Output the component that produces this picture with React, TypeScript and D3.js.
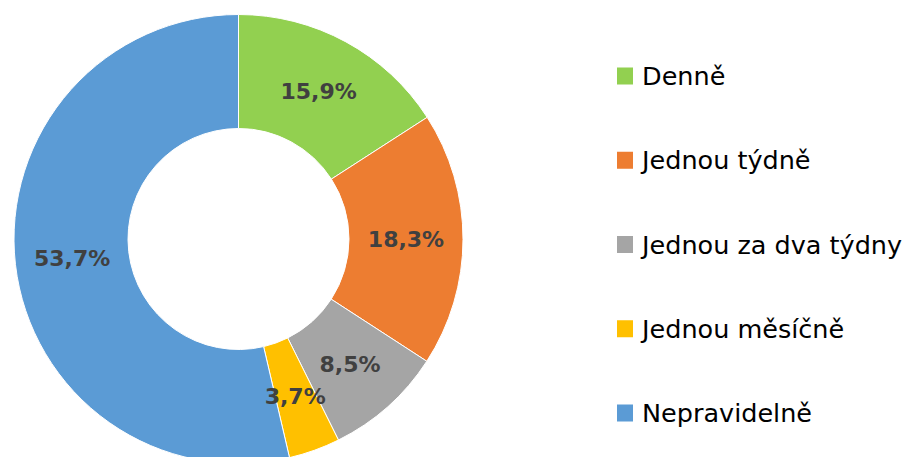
import React, { useEffect, useRef } from 'react';
import * as d3 from 'd3';

const categories = ['Denně', 'Jednou týdně', 'Jednou za dva týdny', 'Jednou měsíčně', 'Nepravidelně'];
const values = [15.9, 18.3, 8.5, 3.7, 53.7];
const labels = ['15,9%', '18,3%', '8,5%', '3,7%', '53,7%'];
const colors = ['#92D050', '#ED7D31', '#A5A5A5', '#FFC000', '#5B9BD5'];

const width = 905;
const height = 457;

const App: React.FC = () => {
  const ref = useRef<SVGSVGElement>(null);

  useEffect(() => {
    if (!ref.current) return;
    const svg = d3.select(ref.current);
    svg.selectAll('*').remove();

    const cx = 238.5;
    const cy = 239;
    const outer = 224.5;
    const inner = 110.5;

    const pie = d3
      .pie<number>()
      .sort(null)
      .value((d) => d);
    const arcs = pie(values);
    const arc = d3.arc<d3.PieArcDatum<number>>().innerRadius(inner).outerRadius(outer);

    const g = svg.append('g').attr('transform', `translate(${cx},${cy})`);

    g.selectAll('path')
      .data(arcs)
      .enter()
      .append('path')
      .attr('d', arc)
      .attr('fill', (_, i) => colors[i])
      .attr('stroke', '#ffffff')
      .attr('stroke-width', 1);

    g.selectAll('text')
      .data(arcs)
      .enter()
      .append('text')
      .attr('transform', (d) => `translate(${arc.centroid(d)})`)
      .attr('text-anchor', 'middle')
      .attr('dominant-baseline', 'central')
      .attr('font-family', 'DejaVu Sans')
      .attr('font-weight', 'bold')
      .attr('font-size', 22)
      .attr('fill', '#404040')
      .text((_, i) => labels[i]);

    // legend
    const legendY = d3
      .scalePoint<string>()
      .domain(categories)
      .range([76, 413]);

    const legend = svg
      .append('g')
      .selectAll('g')
      .data(categories)
      .enter()
      .append('g')
      .attr('transform', (d) => `translate(617,${legendY(d)})`);

    legend
      .append('rect')
      .attr('x', 0)
      .attr('y', -8.5)
      .attr('width', 16)
      .attr('height', 17)
      .attr('fill', (_, i) => colors[i]);

    legend
      .append('text')
      .attr('x', 25)
      .attr('y', 9)
      .attr('font-family', 'DejaVu Sans')
      .attr('font-size', 25.5)
      .attr('fill', '#000000')
      .text((d) => d);
  }, []);

  return (
    <svg
      ref={ref}
      width={width}
      height={height}
      style={{ position: 'absolute', left: 0, top: 0, background: '#ffffff' }}
    ></svg>
  );
};

export default App;
